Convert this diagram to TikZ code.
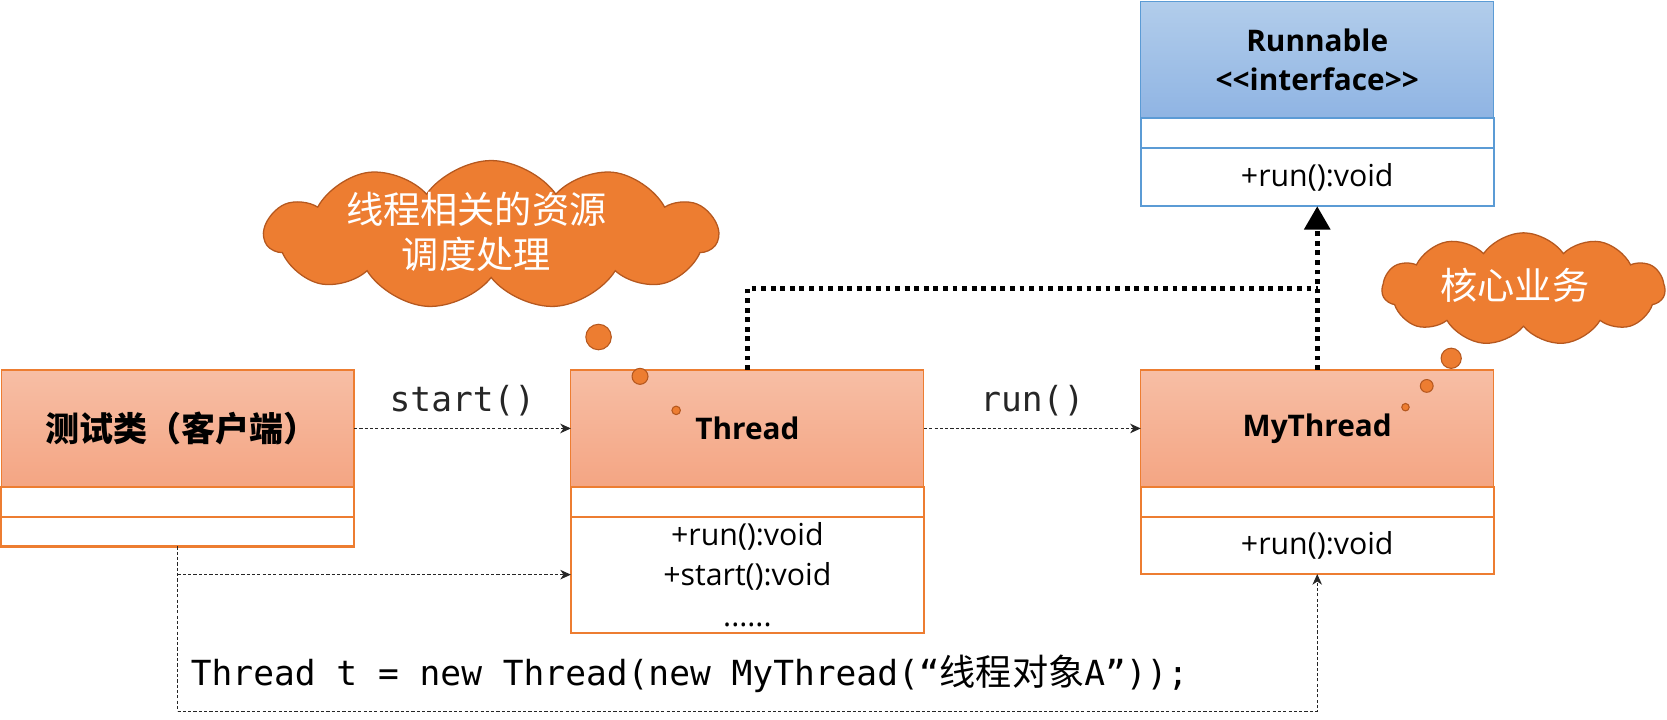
\documentclass[tikz,border=0pt]{standalone}
\usepackage{fontspec}
\setmainfont{Open Sans}
\setmonofont{DejaVu Sans Mono}
\newfontfamily\cjk{Noto Sans CJK SC}
\usetikzlibrary{arrows.meta,shapes.symbols}
\definecolor{ocol}{HTML}{ED7D31}
\definecolor{odark}{HTML}{B5581F}
\definecolor{otop}{HTML}{F7BEA5}
\definecolor{obot}{HTML}{F4A583}
\definecolor{bcol}{HTML}{5B9BD5}
\definecolor{btop}{HTML}{B2CDEB}
\definecolor{bbot}{HTML}{8FB4E3}
\tikzset{
  hdr/.style={draw=ocol, line width=1pt, top color=otop, bottom color=obot,
    minimum width=332pt, minimum height=110pt, anchor=north west, inner sep=0pt,
    outer sep=0pt, align=center, font=\fontsize{28}{37}\selectfont\bfseries},
  comp/.style={draw=ocol, line width=2pt, fill=white, minimum width=332pt,
    anchor=north west, inner sep=0pt, outer sep=0pt, align=center,
    font=\fontsize{28.5}{38}\selectfont},
  bhdr/.style={hdr, draw=bcol, top color=btop, bottom color=bbot},
  bcomp/.style={comp, draw=bcol},
  thin/.style={line width=1pt, dash pattern=on 3pt off 2pt, black!85,
    -{Stealth[length=10pt,width=9pt,inset=3pt]}},
  thinline/.style={line width=1pt, dash pattern=on 3pt off 2pt, black!85},
  heavy/.style={line width=4.5pt, dash pattern=on 4.5pt off 4.5pt, black},
  cloudy/.style={cloud, cloud puffs=11, cloud puff arc=110, cloud ignores aspect,
    fill=ocol, draw=odark, line width=1.2pt, inner sep=0pt},
  cloudtxt/.style={text=white, align=center, font=\cjk\fontsize{35}{43}\selectfont},
  bubble/.style={circle, fill=ocol, draw=odark, line width=1pt, inner sep=0pt},
  mono/.style={font=\ttfamily\fontsize{32.5}{36}\selectfont},
}
\begin{document}
\begin{tikzpicture}[x=1pt,y=-1pt]
\useasboundingbox (0,0) rectangle (1568,677);
% Runnable
\node[bhdr, minimum height=110pt] (rh) at (1073,1) {Runnable\\\textless\kern0pt\textless\kern0pt interface\kern0pt\textgreater\kern0pt\textgreater};
\node[bcomp, minimum height=28pt] (r1) at (rh.south west) {};
\node[bcomp, minimum height=55pt] (r2) at (r1.south west) {+run():void};
% Test class
\node[hdr] (th) at (1,348) {\hspace*{8pt}{\cjk\bfseries\fontsize{32}{37}\selectfont 测试类（客户端）}};
\node[comp, minimum height=28pt] (t1) at (th.south west) {};
\node[comp, minimum height=28pt] (t2) at (t1.south west) {};
% Thread
\node[hdr] (hh) at (537,348) {Thread};
\node[comp, minimum height=28pt] (h1) at (hh.south west) {};
\node[comp, minimum height=109pt] (h2) at (h1.south west) {+run():void\\+start():void\\......};
% MyThread
\node[hdr] (mh) at (1073,348) {MyThread};
\node[comp, minimum height=28pt] (m1) at (mh.south west) {};
\node[comp, minimum height=54pt] (m2) at (m1.south west) {+run():void};
% clouds
\node[cloudy, minimum width=426pt, minimum height=140pt] (c1) at (462,221) {};
\node[cloudtxt] (c1t) at (448,218) {线程相关的资源\\调度处理};
\node[bubble, minimum size=24pt] (b1) at (563,317) {};
\node[bubble, minimum size=15pt] (b2) at (602,354) {};
\node[bubble, minimum size=8pt] (b3) at (636,386) {};
\node[cloudy, minimum width=266pt, minimum height=106pt] (c2) at (1433,272) {};
\node[cloudtxt] (c2t) at (1425,268) {核心业务};
\node[bubble, minimum size=19pt] (b4) at (1365,337) {};
\node[bubble, minimum size=12pt] (b5) at (1342,363) {};
\node[bubble, minimum size=7pt] (b6) at (1322,383) {};
% connectors
\draw[thin] (th.east) -- node[mono, above=8pt] (lstart) {start()} (hh.west);
\draw[thin] (hh.east) -- node[mono, above=8pt] (lrun) {run()} (mh.west);
\coordinate (j) at (1240,271);
\draw[heavy] (hh.north) |- (j);
\draw[heavy, -{Triangle[length=22pt,width=24pt]}] (mh.north) -- (r2.south);
\coordinate (bl) at (167,669);
\draw[thinline] (t2.south) -- (bl);
\draw[thin] (bl) -| (m2.south);
\draw[thin] (t2.south |- h2.west) -- (h2.west);
\node[mono, anchor=west] (code) at (176,634) {Thread t = new Thread(new MyThread(“{\cjk\fontsize{34}{36}\selectfont 线程对象}A”));};
\end{tikzpicture}
\end{document}
